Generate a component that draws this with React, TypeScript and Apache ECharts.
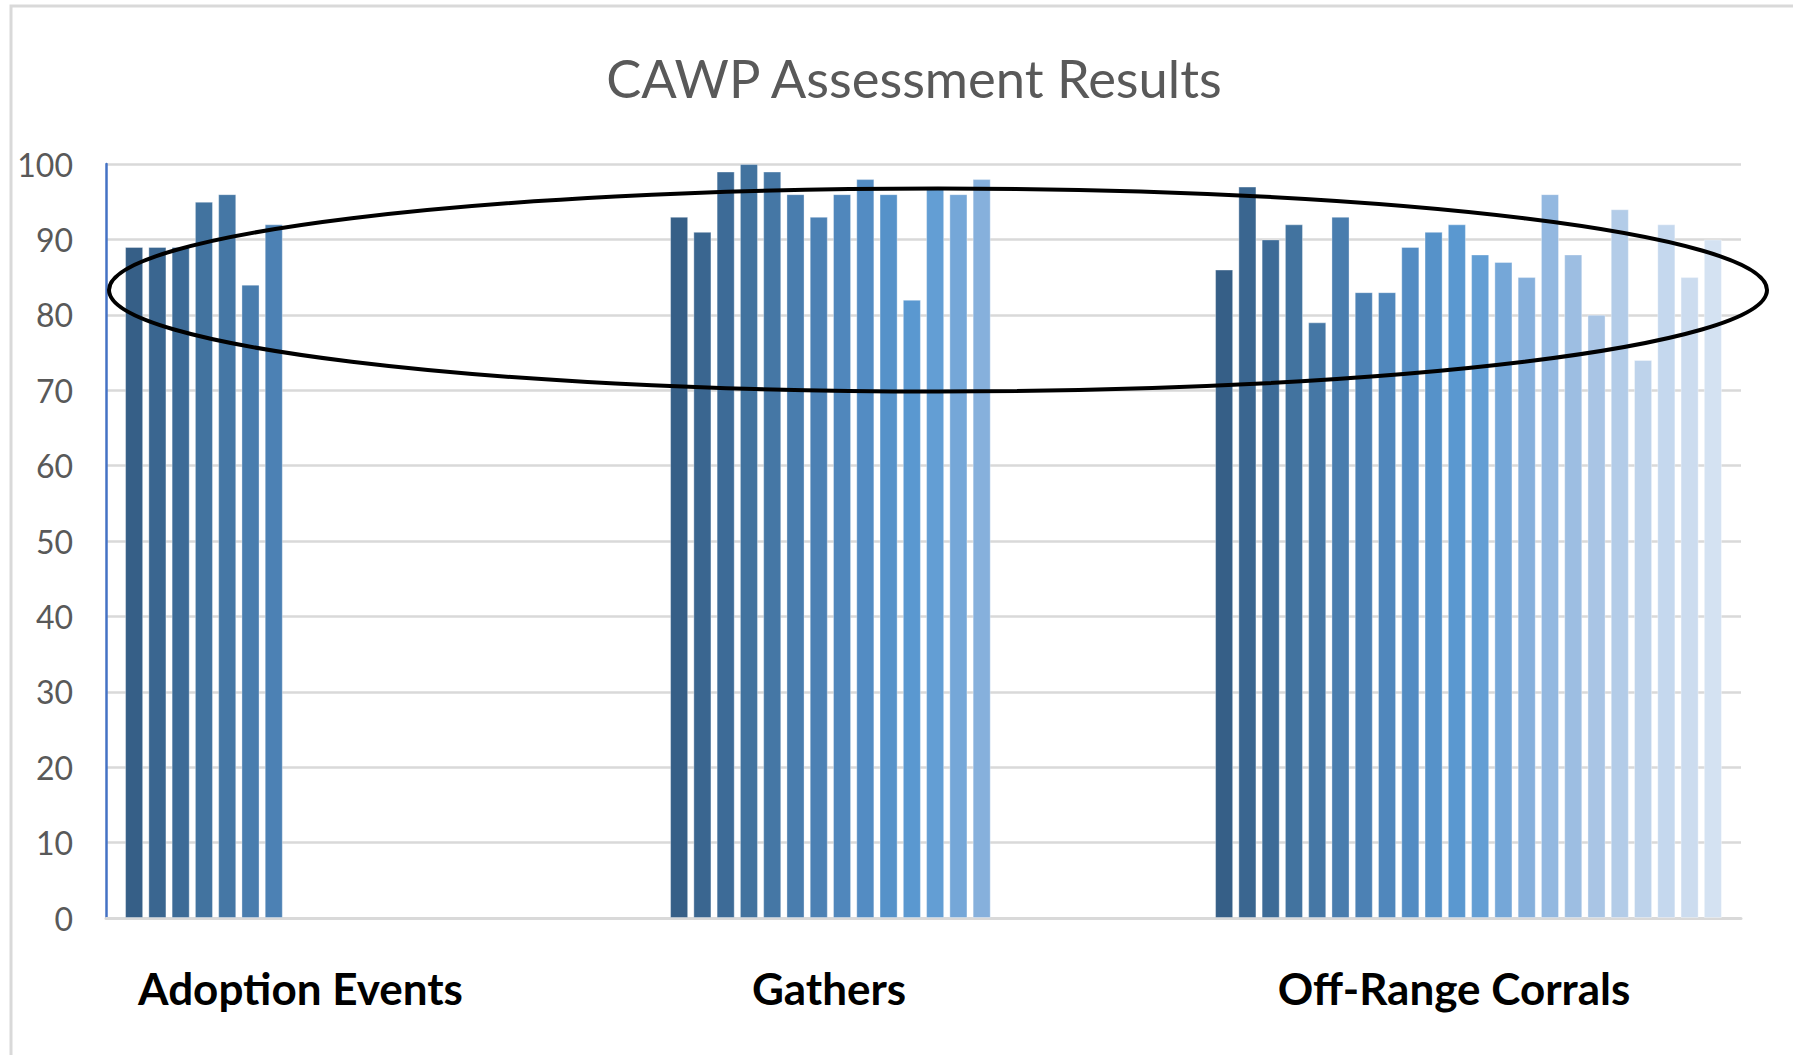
import React, { useEffect, useRef } from "react";
import * as echarts from "echarts";

const categories = ["Adoption Events", "Gathers", "Off-Range Corrals"];
const adoptionValues = [89, 89, 89, 95, 96, 84, 92];
const gathersValues = [93, 91, 99, 100, 99, 96, 93, 96, 98, 96, 82, 97, 96, 98];
const corralsValues = [86, 97, 90, 92, 79, 93, 83, 83, 89, 91, 92, 88, 87, 85, 96, 88, 80, 94, 74, 92, 85, 90];
const seriesColors = [
  "#365F87", "#3A6690", "#3D6B97", "#42739F", "#4577A5", "#497DAE", "#4C81B4", "#5087BC",
  "#538CC3", "#5692C9", "#5A98D0", "#639ED4", "#75A7D8", "#86B0DC", "#93B8E0", "#9DBEE2",
  "#A9C5E5", "#B3CCE8", "#BED3EB", "#C5D8EE", "#CCDCEF", "#D4E2F2",
];
const yTicks = { min: 0, max: 100, interval: 10 };
const title = "CAWP Assessment Results";

export default function App() {
  const ref = useRef<HTMLDivElement>(null);
  useEffect(() => {
    if (!ref.current) return;
    const chart = echarts.init(ref.current, null, { renderer: "svg" });
    const n = Math.max(adoptionValues.length, gathersValues.length, corralsValues.length);
    const series: any[] = [];
    for (let i = 0; i < n; i++) {
      series.push({
        type: "bar",
        name: "Series " + (i + 1),
        data: [
          i < adoptionValues.length ? adoptionValues[i] : null,
          i < gathersValues.length ? gathersValues[i] : null,
          i < corralsValues.length ? corralsValues[i] : null,
        ],
        itemStyle: { color: seriesColors[i], borderColor: "rgba(255,255,255,0.35)", borderWidth: 1 },
        barGap: "28.7%",
        barCategoryGap: "7%",
      });
    }
    const labelKeys = ["a", "g", "o"];
    chart.setOption({
      animation: false,
      backgroundColor: "#ffffff",
      title: {
        text: title,
        left: 909,
        top: 72,
        textAlign: "center",
        textVerticalAlign: "middle",
        textStyle: { fontFamily: "Lato", fontSize: 52.5, fontWeight: "normal", color: "#595959" },
      },
      grid: { left: 106, right: 52, top: 164, bottom: 137, containLabel: false },
      xAxis: {
        type: "category",
        data: categories,
        axisLine: { show: true, lineStyle: { color: "#D9D9D9", width: 3 } },
        axisTick: { show: false },
        axisLabel: {
          interval: 0,
          margin: 48,
          formatter: (v: string) => {
            const idx = categories.indexOf(v);
            return "{" + labelKeys[idx] + "|" + v + "}";
          },
          rich: {
            a: { fontFamily: "Lato", fontWeight: "bold", fontSize: 44, color: "#000", padding: [0, 156, 0, 0] },
            g: { fontFamily: "Lato", fontWeight: "bold", fontSize: 44, color: "#000", padding: [0, 189, 0, 0] },
            o: { fontFamily: "Lato", fontWeight: "bold", fontSize: 44, color: "#000", padding: [0, 29, 0, 0] },
          },
        },
      },
      yAxis: {
        type: "value",
        min: yTicks.min,
        max: yTicks.max,
        interval: yTicks.interval,
        axisLine: { show: true, lineStyle: { color: "#4472C4", width: 2.5 } },
        axisTick: { show: false },
        axisLabel: { fontFamily: "Lato", fontSize: 32, color: "#595959", margin: 33 },
        splitLine: { lineStyle: { color: "#D9D9D9", width: 2.5 } },
      },
      series,
      graphic: [
        {
          type: "rect",
          z: 0,
          silent: true,
          shape: { x: 11, y: 6, width: 1900, height: 1200 },
          style: { fill: "none", stroke: "#D9D9D9", lineWidth: 3 },
        },
        {
          type: "ellipse",
          z: 100,
          silent: true,
          shape: { cx: 938, cy: 290, rx: 829, ry: 101.5 },
          style: { fill: "none", stroke: "#000000", lineWidth: 4 },
        },
      ],
    });
    return () => chart.dispose();
  }, []);
  return (
    <div
      ref={ref}
      style={{ position: "fixed", left: 0, top: 0, width: 1793, height: 1055, background: "#fff" }}
    />
  );
}
